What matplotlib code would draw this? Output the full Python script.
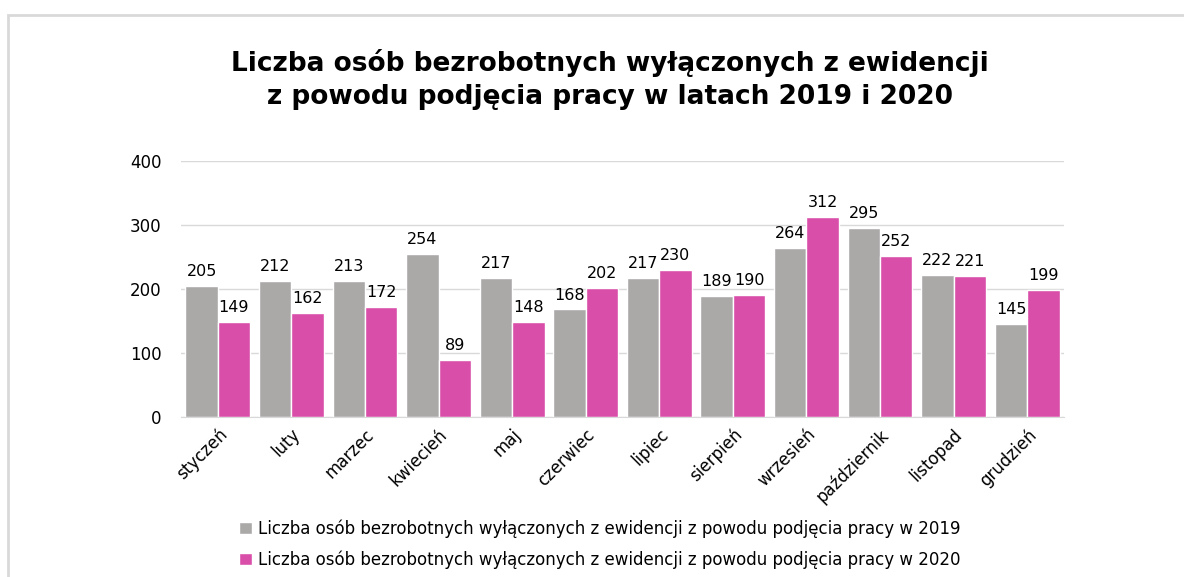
import numpy as np
import matplotlib.pyplot as plt
from matplotlib.patches import Rectangle

months = ["styczeń", "luty", "marzec", "kwiecień", "maj", "czerwiec", "lipiec",
          "sierpień", "wrzesień", "październik", "listopad", "grudzień"]
v2019 = [205, 212, 213, 254, 217, 168, 217, 189, 264, 295, 222, 145]
v2020 = [149, 162, 172, 89, 148, 202, 230, 190, 312, 252, 221, 199]
label2019 = "Liczba osób bezrobotnych wyłączonych z ewidencji z powodu podjęcia pracy w 2019"
label2020 = "Liczba osób bezrobotnych wyłączonych z ewidencji z powodu podjęcia pracy w 2020"

plt.rcParams['font.family'] = ['DejaVu Sans']

fig = plt.figure(figsize=(11.84, 5.77), dpi=100)
# outer chart frame
fig.patches.append(Rectangle((8 / 1184, -0.05), 1.2, 1 - 15 / 577 + 0.05,
                             transform=fig.transFigure, fill=False,
                             edgecolor="#d9d9d9", linewidth=2))

ax = fig.add_axes([181 / 1184, 160 / 577, 883 / 1184, 256 / 577])
x = np.arange(len(months))
w = 0.44
b1 = ax.bar(x - w / 2, v2019, w, color="#aba9a8", edgecolor="white", linewidth=1, label=label2019, zorder=2)
b2 = ax.bar(x + w / 2, v2020, w, color="#d94ea9", edgecolor="white", linewidth=1, label=label2020, zorder=2)
ax.bar_label(b1, padding=5, fontsize=11.5)
ax.bar_label(b2, padding=5, fontsize=11.5)

ax.set_xlim(-0.5, len(months) - 0.5)
ax.set_ylim(0, 400)
ax.set_yticks([0, 100, 200, 300, 400])
ax.yaxis.grid(True, color="#d9d9d9", linewidth=1, zorder=0)
ax.set_axisbelow(True)
ax.tick_params(length=0, labelsize=12)
ax.tick_params(axis="y", pad=14)
ax.tick_params(axis="x", pad=6)
ax.set_xticks(x)
ax.set_xticklabels(months, rotation=45, ha="right", rotation_mode="anchor")
for s in ["left", "right", "top"]:
    ax.spines[s].set_visible(False)
ax.spines["bottom"].set_color("#d9d9d9")

fig.text(0.515, 0.863, "Liczba osób bezrobotnych wyłączonych z ewidencji\nz powodu podjęcia pracy w latach 2019 i 2020",
         ha="center", va="center", fontsize=19, fontweight="bold", linespacing=1.35)

fig.legend(handles=[b1, b2], loc="lower left", bbox_to_anchor=(224 / 1184, -0.012),
           frameon=False, fontsize=12, handlelength=0.75, handleheight=0.75,
           handletextpad=0.4, labelspacing=0.75)

plt.savefig("out.png", dpi=100)
plt.close()
